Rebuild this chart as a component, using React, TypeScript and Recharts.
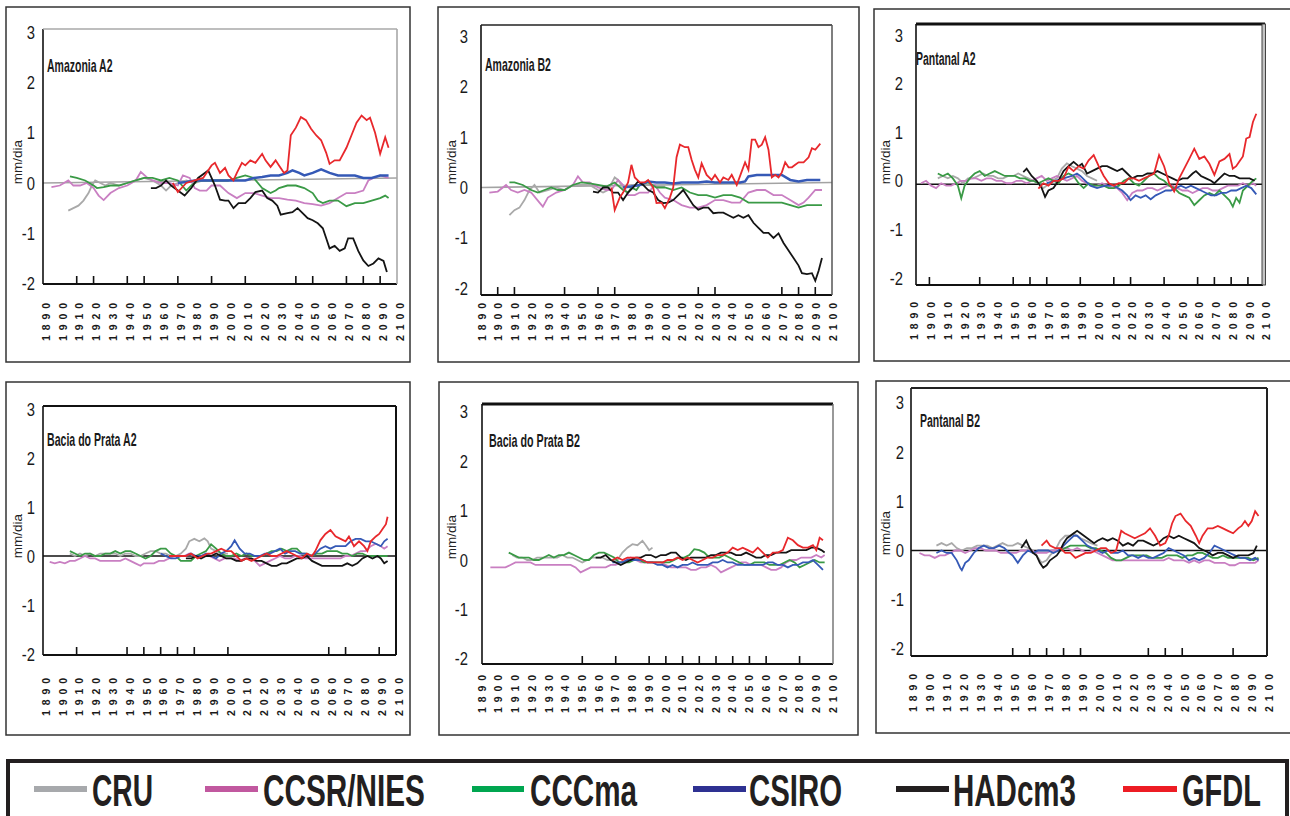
import React from "react";
import { LineChart, Line, XAxis, YAxis, ReferenceLine } from "recharts";

// year, value pairs (mm/dia anomalies)
const amzA2Cru = [1905,-0.55,1908,-0.5,1911,-0.45,1914,-0.35,1917,-0.2,1919,-0.05,1921,0.05,1924,0,1927,-0.05,1930,0,1935,-0.05,1940,0,1945,0.05,1950,0.1,1955,0.05,1960,-0.05,1963,-0.15,1966,-0.05,1970,0,1975,0.05,1980,0,1985,0.05,1990,0.05,1995,0.05,2000,0.05];
const amzA2Ccsr = [1895,-0.08,1900,-0.05,1905,0.05,1908,-0.05,1912,-0.05,1916,0,1920,-0.1,1923,-0.25,1926,-0.34,1930,-0.2,1935,-0.1,1940,-0.05,1945,0.05,1948,0.22,1952,0.1,1955,0.05,1960,0,1965,0,1970,-0.05,1973,0.15,1977,0.1,1980,-0.1,1983,-0.15,1987,-0.15,1990,-0.05,1995,-0.05,2000,-0.2,2005,-0.3,2010,-0.2,2015,-0.2,2020,-0.25,2025,-0.3,2030,-0.3,2035,-0.33,2040,-0.35,2045,-0.4,2050,-0.42,2055,-0.45,2060,-0.4,2065,-0.3,2070,-0.2,2075,-0.2,2080,-0.15,2083,0.05,2086,0.1,2090,0.15,2095,0.1];
const amzA2Cccma = [1906,0.13,1910,0.1,1915,0.05,1920,-0.05,1922,-0.1,1926,-0.08,1930,-0.05,1935,-0.05,1940,0,1945,0.05,1950,0.1,1955,0.1,1960,0.05,1965,0.1,1970,0.05,1975,-0.15,1978,-0.05,1982,0.05,1985,0.05,1990,0.05,1995,0.05,2000,0.05,2005,0.1,2010,0.15,2015,0.1,2020,-0.1,2025,-0.2,2028,-0.15,2030,-0.1,2035,-0.05,2040,-0.05,2045,-0.1,2050,-0.2,2053,-0.35,2056,-0.4,2060,-0.35,2065,-0.35,2070,-0.46,2075,-0.4,2080,-0.4,2085,-0.35,2090,-0.3,2093,-0.25,2095,-0.3];
const amzA2Csiro = [1970,0,1975,0.02,1980,0.05,1985,0.05,1990,0.05,1995,0.05,2000,0.05,2005,0.05,2010,0.05,2015,0.1,2020,0.12,2025,0.15,2030,0.15,2035,0.2,2038,0.25,2042,0.2,2045,0.15,2050,0.2,2055,0.27,2060,0.2,2065,0.15,2070,0.15,2075,0.15,2080,0.1,2085,0.1,2090,0.15,2095,0.15];
const amzA2Had = [1954,-0.1,1957,-0.1,1960,-0.05,1963,0.05,1966,-0.05,1970,-0.15,1974,-0.25,1978,-0.1,1982,0.1,1986,0.2,1988,0.25,1990,0.1,1992,-0.05,1995,-0.33,1998,-0.35,2000,-0.35,2003,-0.5,2006,-0.4,2010,-0.4,2013,-0.3,2016,-0.18,2020,-0.15,2023,-0.3,2026,-0.35,2029,-0.45,2031,-0.63,2035,-0.6,2038,-0.58,2041,-0.5,2044,-0.6,2047,-0.7,2050,-0.74,2053,-0.8,2056,-0.9,2058,-1.1,2060,-1.3,2063,-1.25,2066,-1.35,2069,-1.3,2071,-1.1,2074,-1.1,2077,-1.35,2080,-1.54,2083,-1.65,2086,-1.6,2089,-1.5,2092,-1.55,2094,-1.77];
const amzA2Gfdl = [1967,0,1970,-0.18,1975,0,1980,0.05,1985,0.1,1990,0.35,1992,0.4,1995,0.2,1998,0.3,2000,0.15,2003,0.05,2005,0.2,2008,0.4,2010,0.35,2013,0.45,2016,0.4,2020,0.58,2022,0.45,2025,0.32,2028,0.45,2030,0.35,2033,0.2,2035,0.25,2037,0.95,2040,1.1,2043,1.31,2046,1.25,2049,1.08,2052,0.95,2055,0.85,2058,0.6,2060,0.38,2063,0.45,2066,0.45,2070,0.7,2073,0.95,2076,1.2,2079,1.34,2082,1.25,2084,1.3,2087,1.0,2090,0.58,2093,0.91,2095,0.7];

const amzB2Cru = [1907,-0.55,1910,-0.45,1913,-0.4,1916,-0.25,1919,-0.05,1922,0.05,1925,-0.1,1930,-0.05,1935,0,1940,-0.05,1945,0.05,1950,0.05,1955,0.05,1960,-0.05,1963,-0.1,1966,-0.05,1970,0.2,1972,0.15,1975,0,1980,0.05,1985,0.05,1990,0.05,1995,0.02,2000,0.02];
const amzB2Ccsr = [1895,-0.1,1900,-0.08,1905,0.05,1908,-0.05,1912,-0.1,1916,-0.05,1920,-0.1,1925,-0.3,1927,-0.38,1930,-0.2,1935,-0.1,1940,-0.05,1945,0.05,1948,0.22,1951,0.1,1955,0.1,1960,0,1965,-0.05,1968,-0.05,1972,0.15,1975,0.05,1978,-0.15,1982,-0.15,1985,-0.1,1990,-0.1,1994,0.05,1997,-0.1,2000,-0.2,2005,-0.25,2010,-0.35,2015,-0.4,2020,-0.4,2025,-0.35,2030,-0.25,2035,-0.25,2040,-0.3,2045,-0.3,2050,-0.1,2055,-0.05,2060,-0.05,2065,-0.15,2070,-0.15,2075,-0.25,2080,-0.35,2083,-0.3,2086,-0.2,2090,-0.05,2094,-0.05];
const amzB2Cccma = [1907,0.1,1910,0.1,1915,0.05,1920,-0.05,1924,-0.1,1928,-0.05,1932,0,1936,-0.05,1940,-0.05,1945,0.05,1950,0.1,1955,0.08,1960,0.05,1965,0.02,1970,0.1,1975,-0.05,1978,-0.1,1980,0,1983,-0.05,1985,0.05,1990,0.1,1995,0,2000,0,2005,-0.05,2010,0,2015,-0.1,2020,-0.15,2025,-0.15,2030,-0.2,2035,-0.15,2040,-0.15,2045,-0.2,2050,-0.3,2055,-0.3,2060,-0.3,2065,-0.3,2070,-0.3,2075,-0.35,2080,-0.4,2085,-0.35,2090,-0.35,2094,-0.35];
const amzB2Csiro = [1975,0,1980,0.02,1985,0.05,1990,0.12,1995,0.1,2000,0.1,2005,0.08,2010,0.1,2015,0.1,2020,0.1,2025,0.12,2030,0.1,2035,0.1,2040,0.1,2045,0.1,2048,0.12,2050,0.22,2055,0.25,2060,0.25,2065,0.25,2070,0.25,2075,0.15,2080,0.12,2085,0.15,2090,0.15,2093,0.15];
const amzB2Had = [1957,-0.08,1960,-0.1,1963,0,1966,0,1969,-0.1,1972,-0.1,1975,-0.25,1978,-0.1,1981,0,1984,0.12,1987,0.05,1990,-0.05,1993,-0.1,1996,-0.25,1999,-0.31,2002,-0.3,2005,-0.25,2008,-0.15,2011,-0.05,2014,-0.2,2017,-0.35,2020,-0.44,2023,-0.4,2026,-0.4,2029,-0.51,2032,-0.5,2035,-0.5,2038,-0.55,2041,-0.6,2044,-0.55,2047,-0.6,2050,-0.55,2053,-0.7,2056,-0.8,2059,-0.9,2062,-0.9,2065,-1.0,2068,-0.91,2071,-1.1,2074,-1.25,2077,-1.4,2080,-1.55,2082,-1.7,2085,-1.72,2088,-1.7,2090,-1.85,2092,-1.65,2094,-1.4];
const amzB2Gfdl = [1968,0,1970,-0.45,1973,-0.2,1975,-0.1,1978,0.1,1980,0.45,1982,0.2,1985,0.1,1988,0.1,1990,0.15,1993,0,1995,-0.31,1998,-0.3,2000,-0.41,2003,-0.2,2005,0,2007,0.6,2009,0.85,2012,0.8,2014,0.8,2016,0.55,2018,0.35,2020,0.2,2022,0.48,2025,0.25,2028,0.15,2030,0.25,2033,0.1,2035,0.2,2038,0.15,2040,0.25,2043,0.05,2046,0.32,2048,0.5,2050,0.35,2052,0.95,2054,0.95,2056,0.8,2058,0.85,2060,1.0,2062,0.75,2064,0.2,2066,0.25,2068,0.2,2070,0.3,2072,0.5,2074,0.4,2076,0.4,2078,0.45,2080,0.5,2083,0.5,2086,0.6,2088,0.78,2090,0.75,2093,0.87];

const panA2Cru = [1905,0.05,1908,0.1,1911,0.05,1914,0.1,1917,0.05,1920,-0.05,1923,0.05,1926,0.05,1929,0.1,1932,0.15,1935,0.1,1938,0.1,1941,0.05,1944,0.05,1947,0.1,1950,0.1,1953,0.15,1956,0.1,1959,0.05,1962,0,1965,-0.05,1968,-0.15,1970,-0.1,1973,0,1976,0.05,1979,0.25,1982,0.36,1985,0.3,1988,0.25,1991,0.2,1994,0.1,1997,0.05,2000,0];
const panA2Ccsr = [1895,-0.05,1898,0,1901,-0.1,1904,-0.15,1907,-0.05,1910,-0.1,1913,-0.1,1916,-0.05,1919,0,1922,0,1925,0.05,1928,0.05,1931,0,1934,0.05,1937,0.05,1940,0,1943,0,1946,-0.05,1949,-0.05,1952,0,1955,0,1958,-0.05,1961,0,1964,0.05,1967,0.1,1970,0,1973,0.05,1976,0.1,1979,0.05,1982,0,1985,0.05,1988,0.1,1991,0,1994,-0.05,1997,-0.1,2000,-0.1,2003,-0.05,2006,-0.1,2009,-0.15,2012,-0.15,2015,-0.25,2018,-0.4,2021,-0.25,2024,-0.2,2027,-0.2,2030,-0.15,2033,-0.15,2036,-0.2,2039,-0.15,2042,-0.1,2045,-0.1,2048,-0.15,2051,-0.2,2054,-0.2,2057,-0.25,2060,-0.2,2063,-0.15,2066,-0.15,2069,-0.2,2072,-0.2,2075,-0.15,2078,-0.1,2081,-0.1,2084,-0.1,2087,-0.05,2090,-0.1,2093,-0.05,2095,-0.1];
const panA2Cccma = [1905,0.15,1908,0.1,1911,0.15,1914,0.05,1917,-0.1,1919,-0.36,1921,-0.1,1924,0.05,1927,0.15,1930,0.2,1933,0.1,1936,0.15,1939,0.2,1942,0.15,1945,0.1,1948,0.1,1951,0.1,1954,0.05,1957,0.05,1960,0,1962,0,1965,-0.05,1968,0,1971,0.05,1974,0,1977,-0.05,1980,0.1,1983,0.15,1986,0.1,1989,-0.05,1992,-0.15,1995,-0.05,1998,-0.1,2001,-0.1,2004,-0.1,2007,-0.15,2010,-0.15,2013,-0.1,2016,0,2019,0.05,2022,-0.05,2025,-0.1,2028,0,2031,0.1,2034,0.15,2037,0.05,2040,0,2043,-0.1,2046,-0.15,2049,-0.25,2052,-0.3,2055,-0.35,2058,-0.5,2061,-0.4,2064,-0.3,2067,-0.25,2070,-0.3,2073,-0.2,2076,-0.3,2079,-0.4,2081,-0.53,2083,-0.35,2085,-0.45,2087,-0.2,2090,-0.1,2093,0,2095,0.05];
const panA2Csiro = [1970,-0.05,1975,0,1980,0.05,1985,0.1,1988,0.15,1990,0.1,1993,0,1996,-0.1,2000,-0.15,2005,-0.1,2010,-0.1,2015,-0.2,2018,-0.3,2020,-0.4,2023,-0.3,2026,-0.35,2029,-0.3,2032,-0.38,2035,-0.3,2038,-0.25,2041,-0.2,2044,-0.2,2047,-0.15,2050,-0.1,2053,-0.15,2056,-0.1,2059,-0.15,2062,-0.2,2065,-0.25,2068,-0.3,2071,-0.3,2074,-0.25,2077,-0.25,2080,-0.2,2083,-0.2,2086,-0.15,2089,-0.1,2092,-0.15,2095,-0.28];
const panA2Had = [1956,0.18,1958,0.25,1961,0.1,1964,0,1967,-0.15,1969,-0.33,1971,-0.2,1974,-0.15,1977,0,1980,0.2,1983,0.3,1986,0.39,1989,0.3,1991,0.35,1994,0.15,1997,0.2,2000,0.25,2003,0.3,2006,0.3,2009,0.25,2012,0.2,2015,0.25,2018,0.15,2021,0.05,2024,0.1,2027,0.1,2030,0.15,2033,0.15,2036,0.2,2039,0.15,2042,0.1,2045,0.05,2048,0,2051,0.05,2054,0.05,2057,0.15,2059,0.2,2062,0.1,2065,0.05,2068,0,2070,-0.05,2073,0.05,2076,0.15,2079,0.1,2082,0.1,2085,0.05,2088,0.05,2091,0.05,2094,0];
const panA2Gfdl = [1965,-0.16,1968,-0.05,1971,-0.1,1974,0,1977,0,1980,0.05,1983,0.29,1986,0.2,1989,0.3,1992,0.25,1995,0.42,1998,0.53,2001,0.3,2004,0.1,2007,-0.05,2010,-0.1,2013,-0.05,2016,-0.05,2019,0.05,2022,0.05,2025,0,2028,0.05,2031,0.1,2034,0.15,2037,0.53,2040,0.3,2043,-0.05,2046,-0.22,2049,0.05,2052,0.25,2055,0.45,2058,0.66,2061,0.45,2064,0.5,2067,0.35,2070,0.12,2073,0.4,2076,0.45,2079,0.55,2081,0.25,2083,0.3,2085,0.4,2087,0.5,2089,0.87,2091,0.9,2093,1.21,2095,1.38];

const bpA2Cru = [1906,0.05,1909,0,1912,0.05,1915,0,1918,0.05,1921,0,1924,0.05,1927,0.05,1930,0.05,1933,0.05,1936,0,1939,0.05,1942,0.05,1945,0,1948,0,1951,0.05,1954,0.1,1957,0.1,1960,0.05,1963,0.05,1966,0,1969,0,1972,0.05,1975,0.15,1977,0.3,1980,0.35,1983,0.3,1986,0.36,1988,0.3,1990,0.15,1993,0.1,1996,0.05,2000,0.05];
const bpA2Ccsr = [1894,-0.12,1897,-0.15,1900,-0.12,1903,-0.15,1906,-0.1,1909,-0.1,1912,-0.05,1915,0,1918,-0.05,1921,-0.05,1924,-0.1,1927,-0.1,1930,-0.1,1933,-0.1,1936,-0.1,1939,-0.05,1942,-0.1,1945,-0.15,1948,-0.2,1950,-0.15,1953,-0.15,1956,-0.15,1959,-0.1,1962,-0.1,1965,-0.05,1968,0,1971,0,1974,0,1977,0.05,1980,0,1983,0,1986,0,1989,0,1992,-0.05,1995,-0.1,1998,-0.05,2001,-0.05,2004,-0.05,2007,-0.1,2010,-0.05,2013,-0.05,2016,-0.1,2019,-0.2,2022,-0.15,2025,-0.1,2028,-0.05,2031,0,2034,-0.05,2037,-0.05,2040,0,2043,0,2046,-0.05,2049,-0.05,2052,-0.05,2055,-0.05,2058,-0.05,2061,-0.05,2064,-0.05,2067,-0.05,2070,0,2073,0,2076,0.05,2079,0.1,2082,0.1,2085,0.2,2088,0.25,2091,0.2,2093,0.15,2095,0.2];
const bpA2Cccma = [1906,0.1,1909,0.05,1912,0,1915,0.05,1918,0.05,1921,0,1924,0,1927,0.05,1930,0.05,1933,0.1,1936,0.05,1939,0.1,1942,0.1,1945,0.05,1948,0,1951,-0.05,1954,0,1957,0.1,1960,0.15,1963,0.15,1966,0.05,1969,0,1972,-0.1,1975,-0.1,1978,-0.1,1981,0,1984,0.05,1987,0.1,1990,0.24,1993,0.15,1996,0.05,1999,0,2002,0,2005,0.05,2008,0,2011,0.05,2014,0,2017,0,2020,0,2023,0.05,2026,0.1,2029,0.1,2032,0.15,2035,0.1,2038,0.15,2041,0.15,2044,0.05,2047,0.05,2050,0,2053,0.05,2056,0.05,2059,0.1,2062,0.1,2065,0.1,2068,0.05,2071,0.05,2074,0,2077,0.05,2080,0.05,2083,0,2086,0,2089,0,2092,0,2095,0];
const bpA2Csiro = [1960,0.05,1963,0,1966,-0.05,1969,-0.05,1972,0,1975,0,1978,0.05,1981,0,1984,0,1987,0.05,1990,0,1993,-0.05,1996,0.05,1999,0.1,2002,0.2,2004,0.32,2007,0.15,2010,0.05,2013,0.05,2016,0,2019,0,2022,0.05,2025,0.05,2028,0.1,2031,0.15,2034,0.05,2037,0.1,2040,0.1,2043,0.05,2046,0.05,2049,0,2052,0.05,2055,0.15,2058,0.2,2061,0.15,2064,0.2,2067,0.2,2070,0.2,2073,0.3,2076,0.35,2079,0.35,2082,0.3,2085,0.3,2088,0.25,2091,0.2,2093,0.3,2095,0.35];
const bpA2Had = [1975,-0.05,1978,-0.05,1981,0,1984,-0.05,1987,0,1990,0,1993,0.05,1996,0,1999,-0.05,2002,-0.05,2005,-0.1,2008,-0.1,2011,-0.05,2014,-0.05,2017,-0.1,2020,-0.1,2023,-0.15,2026,-0.2,2029,-0.2,2032,-0.15,2035,-0.15,2038,-0.1,2041,-0.05,2044,-0.05,2047,0,2050,-0.1,2053,-0.15,2056,-0.2,2059,-0.2,2062,-0.2,2065,-0.2,2068,-0.2,2071,-0.15,2074,-0.2,2077,-0.15,2080,-0.05,2083,0,2086,-0.05,2089,0,2091,-0.05,2093,-0.15,2095,-0.1];
const bpA2Gfdl = [1965,0,1970,0,1975,0,1978,0.05,1982,-0.05,1985,0,1988,0.05,1990,0.05,1993,0.1,1996,0.15,1999,0.1,2002,0.1,2005,0,2008,-0.1,2011,-0.05,2014,-0.1,2017,-0.05,2020,0,2023,0.05,2026,0,2029,0,2032,0.05,2035,0.1,2038,0.05,2041,0,2044,-0.05,2047,0.05,2050,0,2052,0.1,2055,0.32,2058,0.45,2061,0.53,2064,0.4,2067,0.35,2070,0.3,2072,0.4,2075,0.2,2078,0.3,2081,0.2,2083,0.1,2085,0.3,2088,0.4,2090,0.45,2092,0.55,2094,0.65,2095,0.8];

const bpB2Cru = [1908,0.1,1911,0.05,1914,0.05,1917,0,1920,0,1923,0.05,1926,0.05,1929,0.05,1932,0.05,1935,0.05,1938,0.1,1941,0.05,1944,0.05,1947,0,1950,-0.05,1953,0,1956,0.05,1959,0.05,1962,0.05,1965,0,1968,0,1971,0,1974,0.15,1977,0.25,1980,0.32,1983,0.3,1986,0.39,1988,0.3,1990,0.2,1992,0.25];
const bpB2Ccsr = [1895,-0.15,1898,-0.15,1901,-0.15,1904,-0.15,1907,-0.1,1910,-0.05,1913,-0.05,1916,-0.05,1919,-0.05,1922,-0.1,1925,-0.1,1928,-0.1,1931,-0.1,1934,-0.1,1937,-0.1,1940,-0.1,1943,-0.1,1946,-0.15,1949,-0.25,1952,-0.2,1955,-0.15,1958,-0.15,1961,-0.15,1964,-0.15,1967,-0.1,1970,-0.1,1973,-0.05,1976,0,1979,0.05,1982,0,1985,-0.05,1988,-0.05,1991,-0.05,1994,-0.05,1997,-0.05,2000,-0.1,2003,-0.15,2006,-0.15,2009,-0.15,2012,-0.15,2015,-0.2,2018,-0.2,2021,-0.15,2024,-0.15,2027,-0.1,2030,-0.15,2033,-0.25,2036,-0.2,2039,-0.15,2042,-0.1,2045,-0.05,2048,-0.05,2051,-0.1,2054,-0.1,2057,-0.1,2060,-0.15,2063,-0.2,2066,-0.2,2069,-0.15,2072,-0.05,2075,0,2078,0,2081,0.05,2084,0.05,2087,0.05,2090,0.1,2093,0.05,2095,0.1];
const bpB2Cccma = [1906,0.15,1909,0.1,1912,0.05,1915,0.05,1918,0.05,1921,0,1924,0,1927,0.05,1930,0.1,1933,0.05,1936,0.1,1939,0.1,1942,0.15,1945,0.1,1948,0.05,1951,0,1954,0,1957,0.1,1960,0.15,1963,0.15,1966,0.1,1969,0.05,1972,-0.05,1975,-0.05,1978,-0.05,1981,0,1984,0,1987,-0.05,1990,-0.05,1993,-0.05,1996,-0.05,1999,-0.05,2002,-0.05,2005,0,2008,0.05,2011,0.05,2014,0.1,2017,0.22,2020,0.2,2023,0.15,2026,0.05,2029,0.05,2032,0.05,2035,0.1,2038,0.05,2041,0,2044,-0.05,2047,-0.1,2050,-0.1,2053,-0.05,2056,-0.05,2059,-0.05,2062,-0.1,2065,-0.1,2068,-0.1,2071,-0.05,2074,0,2077,-0.05,2080,-0.15,2083,-0.1,2086,-0.05,2089,0,2092,-0.05,2095,-0.05];
const bpB2Csiro = [1968,-0.05,1971,-0.05,1974,-0.05,1977,0,1980,0,1983,0,1986,0,1989,-0.05,1992,-0.05,1995,-0.1,1998,-0.1,2001,-0.15,2004,-0.1,2007,-0.15,2010,-0.1,2013,-0.1,2016,-0.05,2019,-0.1,2022,-0.1,2025,-0.1,2028,-0.05,2031,-0.05,2034,0,2037,-0.05,2040,-0.05,2043,-0.1,2046,-0.1,2049,-0.1,2052,-0.1,2055,-0.1,2058,-0.1,2061,-0.05,2064,-0.05,2067,-0.1,2070,-0.1,2073,-0.15,2076,-0.1,2079,-0.1,2082,-0.05,2085,-0.05,2088,0,2091,-0.1,2094,-0.2];
const bpB2Had = [1958,0.05,1961,0.05,1964,0.1,1967,0,1970,-0.05,1973,-0.1,1976,-0.05,1979,0,1982,0.05,1985,0.05,1988,0.1,1991,0.1,1994,0.05,1997,0.1,2000,0.1,2003,0.15,2006,0.15,2009,0.05,2012,0,2015,0.05,2018,0.05,2021,0.05,2024,0.05,2027,0.1,2030,0.1,2033,0.15,2036,0.15,2039,0.15,2042,0.1,2045,0.1,2048,0.15,2051,0.1,2054,0.05,2057,0.05,2060,0.1,2063,0.1,2066,0.15,2069,0.15,2072,0.15,2075,0.2,2078,0.2,2081,0.2,2084,0.2,2087,0.25,2090,0.25,2093,0.2,2095,0.15];
const bpB2Gfdl = [1968,0,1971,0.05,1974,0,1977,0.05,1980,0.05,1983,0.05,1986,0,1989,-0.05,1992,-0.05,1995,-0.05,1998,-0.05,2001,0,2004,0,2007,0.05,2010,0,2013,0.05,2016,0,2019,-0.05,2022,0,2025,0.05,2028,0.05,2031,0.1,2034,0.1,2037,0.15,2040,0.25,2043,0.2,2046,0.25,2049,0.2,2052,0.15,2055,0.25,2058,0.15,2061,0.05,2064,0.15,2067,0.15,2070,0.2,2073,0.45,2076,0.4,2079,0.3,2082,0.25,2085,0.25,2088,0.3,2090,0.2,2092,0.45,2094,0.4];

const panB2Cru = [1905,0.1,1908,0.15,1911,0.1,1914,0.15,1917,0.05,1920,0,1923,0.05,1926,0.05,1929,0.1,1932,0.1,1935,0.1,1938,0.05,1941,0.1,1944,0.15,1947,0.1,1950,0.1,1953,0.15,1956,0.1,1959,0.05,1962,0,1965,-0.15,1967,-0.25,1970,-0.2,1972,-0.1,1975,0,1978,0.2,1981,0.3,1984,0.3,1986,0.35,1988,0.3,1990,0.25,1993,0.2,1996,0.15,2000,0.1];
const panB2Ccsr = [1895,-0.05,1898,-0.1,1901,-0.1,1904,-0.15,1907,-0.1,1910,-0.1,1913,-0.05,1916,0,1919,0,1922,-0.05,1925,0,1928,0.05,1931,0.05,1934,0,1937,0,1940,0,1943,-0.05,1946,-0.05,1949,-0.05,1952,-0.05,1955,0,1958,0,1961,0,1964,-0.05,1967,-0.05,1970,-0.05,1973,0,1976,0,1979,0.05,1982,0.05,1985,0,1988,0.05,1991,0,1994,-0.05,1997,0,2000,-0.05,2003,-0.1,2006,-0.15,2009,-0.2,2012,-0.2,2015,-0.2,2018,-0.2,2021,-0.2,2024,-0.2,2027,-0.2,2030,-0.2,2033,-0.2,2036,-0.2,2039,-0.2,2042,-0.15,2045,-0.2,2048,-0.2,2051,-0.2,2054,-0.25,2057,-0.2,2060,-0.25,2063,-0.2,2066,-0.2,2069,-0.25,2072,-0.25,2075,-0.25,2078,-0.3,2081,-0.3,2084,-0.25,2087,-0.25,2090,-0.25,2093,-0.25,2095,-0.2];
const panB2Cccma = [1978,0,1981,0.05,1984,0.1,1987,0.1,1990,0.1,1993,0.1,1996,0.05,1999,0.05,2002,0,2005,-0.05,2008,-0.15,2011,-0.2,2014,-0.2,2017,-0.15,2020,-0.1,2023,-0.1,2026,-0.1,2029,-0.1,2032,-0.15,2035,-0.15,2038,-0.15,2041,-0.1,2044,-0.1,2047,-0.1,2050,-0.15,2053,-0.1,2056,-0.1,2059,-0.05,2062,-0.05,2065,-0.1,2068,-0.15,2071,-0.15,2074,-0.1,2077,-0.15,2080,-0.15,2083,-0.15,2086,-0.15,2089,-0.15,2092,-0.2,2095,-0.15];
const panB2Csiro = [1905,-0.05,1908,0,1911,-0.05,1914,-0.05,1917,-0.2,1919,-0.35,1920,-0.4,1922,-0.25,1924,-0.2,1927,-0.05,1930,0.05,1933,0.1,1936,0.05,1939,0.05,1942,0.1,1945,0.05,1948,-0.05,1950,-0.1,1953,-0.25,1956,-0.1,1959,0,1962,-0.05,1965,0,1968,0,1971,0,1974,-0.05,1977,0,1980,0.1,1983,0.2,1986,0.3,1988,0.3,1991,0.2,1994,0.1,1997,0.05,2000,0,2003,-0.05,2006,0,2009,-0.05,2012,-0.05,2015,0,2018,-0.1,2021,-0.1,2024,-0.15,2027,-0.1,2030,-0.15,2033,-0.15,2036,-0.1,2039,-0.05,2042,0.05,2045,0,2048,-0.05,2051,-0.1,2054,-0.2,2057,-0.15,2060,-0.2,2063,-0.15,2066,-0.05,2069,0.1,2072,0.05,2075,0,2078,-0.05,2081,-0.1,2084,-0.15,2087,-0.15,2090,-0.2,2093,-0.15,2095,-0.2];
const panB2Had = [1955,0.05,1957,0.15,1958,0.2,1960,0.05,1962,-0.05,1964,-0.1,1966,-0.25,1968,-0.35,1970,-0.3,1972,-0.2,1974,-0.15,1976,-0.1,1978,0,1980,0.15,1982,0.25,1984,0.3,1986,0.35,1988,0.4,1990,0.35,1992,0.3,1994,0.25,1996,0.2,1998,0.15,2000,0.2,2003,0.25,2006,0.2,2009,0.25,2012,0.2,2015,0.1,2018,0.15,2021,0.1,2024,0.2,2027,0.2,2030,0.15,2033,0.1,2036,0.15,2039,0.25,2042,0.3,2045,0.25,2048,0.3,2051,0.25,2054,0.2,2057,0.15,2060,0.05,2063,0,2066,-0.05,2068,-0.1,2071,-0.05,2074,-0.05,2077,-0.1,2080,-0.15,2083,-0.1,2086,-0.1,2089,-0.1,2092,-0.05,2094,0.1];
const panB2Gfdl = [1967,0.1,1970,0.2,1972,0.1,1975,0.05,1978,0.05,1981,-0.05,1984,-0.05,1987,-0.15,1990,-0.1,1993,-0.05,1996,-0.05,1999,0,2002,0.05,2005,0.05,2008,-0.05,2011,0,2014,0.4,2016,0.35,2019,0.3,2022,0.25,2025,0.3,2028,0.35,2031,0.45,2034,0.3,2037,0.1,2040,0.15,2042,0.3,2044,0.55,2046,0.7,2049,0.75,2052,0.6,2055,0.5,2058,0.3,2060,0.15,2062,0.3,2065,0.45,2068,0.45,2071,0.5,2074,0.45,2077,0.4,2080,0.35,2083,0.45,2085,0.5,2087,0.6,2089,0.5,2091,0.6,2093,0.8,2095,0.7];

const MODELS = ["CRU", "CCSR/NIES", "CCCma", "CSIRO", "HADcm3", "GFDL"];
const LINE_COLORS = ["#a9a9a9", "#c97fc2", "#3a9a46", "#3559b6", "#141414", "#e8282c"];
const LEGEND_COLORS = ["#a7a9ac", "#c1589f", "#00a650", "#2e3192", "#231f20", "#ed1c24"];
const DECADES = [1890,1900,1910,1920,1930,1940,1950,1960,1970,1980,1990,2000,2010,2020,2030,2040,2050,2060,2070,2080,2090,2100];
const Y_TICKS = [-2, -1, 0, 1, 2, 3];

const toPoints = (flat: number[]) => {
  const out: { year: number; v: number }[] = [];
  for (let i = 0; i < flat.length; i += 2) out.push({ year: flat[i], v: flat[i + 1] });
  return out;
};

type Panel = {
  title: string;
  series: number[][];
  marks: number[];
  box: [number, number, number, number];
  plot: [number, number, number, number];
  zeroY: number;
  unit: number;
  xDomain: [number, number];
  labelGap: number;
  labelDx: number;
  yGap: number;
  titlePos: [number, number, number];
  unitPos: [number, number];
  zero: "tilt" | "line" | "none";
  zeroAt?: number;
  blueWide?: boolean;
};

const PANELS: Panel[] = [
  {
    title: "Amazonia A2",
    series: [amzA2Cru, amzA2Ccsr, amzA2Cccma, amzA2Csiro, amzA2Had, amzA2Gfdl],
    marks: [1910,1920,1940,1950,1970,1990,2010,2040,2050,2070,2080,2090],
    box: [6, 7, 404, 355], plot: [43, 29, 397, 284], zeroY: 183, unit: 50.3,
    xDomain: [1890, 2100], labelGap: 19, labelDx: 3, yGap: 8,
    titlePos: [47, 65, 66], unitPos: [17.5, 162], zero: "tilt", blueWide: true,
  },
  {
    title: "Amazonia B2",
    series: [amzB2Cru, amzB2Ccsr, amzB2Cccma, amzB2Csiro, amzB2Had, amzB2Gfdl],
    marks: [1900,1910,1940,1960,1970,2020,2030,2070,2080,2090],
    box: [438, 7, 421, 355], plot: [481, 25, 832, 295], zeroY: 187.5, unit: 50.4,
    xDomain: [1890, 2100], labelGap: 8, labelDx: 1, yGap: 13,
    titlePos: [485, 64, 66], unitPos: [451, 162], zero: "tilt", blueWide: true,
  },
  {
    title: "Pantanal A2",
    series: [panA2Cru, panA2Ccsr, panA2Cccma, panA2Csiro, panA2Had, panA2Gfdl],
    marks: [1900,1930,1950,1960,1970,1990,2010,2020,2040,2060,2070,2080,2090],
    box: [874, 9, 420, 352], plot: [916, 24, 1263, 285], zeroY: 180.8, unit: 48.6,
    xDomain: [1892, 2099], labelGap: 17, labelDx: 2, yGap: 13,
    titlePos: [916, 58, 60], unitPos: [885, 162], zero: "line", zeroAt: -0.07,
  },
  {
    title: "Bacia do Prata A2",
    series: [bpA2Cru, bpA2Ccsr, bpA2Cccma, bpA2Csiro, bpA2Had, bpA2Gfdl],
    marks: [1910,1940,1950,1960,1970,1980,2000,2060,2070,2090],
    box: [6, 382, 404, 353], plot: [43, 406, 396, 655], zeroY: 556, unit: 49,
    xDomain: [1890, 2100], labelGap: 23, labelDx: 3, yGap: 8,
    titlePos: [47, 439, 90], unitPos: [17, 536], zero: "line", zeroAt: 0,
  },
  {
    title: "Bacia do Prata B2",
    series: [bpB2Cru, bpB2Ccsr, bpB2Cccma, bpB2Csiro, bpB2Had, bpB2Gfdl],
    marks: [1950,1970,1990,2000,2010,2020,2030,2040,2050,2060,2080],
    box: [439, 382, 419, 353], plot: [482, 404, 833, 664], zeroY: 560, unit: 49.4,
    xDomain: [1890, 2100], labelGap: 11, labelDx: 0, yGap: 14,
    titlePos: [489, 440, 91], unitPos: [451, 537], zero: "none",
  },
  {
    title: "Pantanal B2",
    series: [panB2Cru, panB2Ccsr, panB2Cccma, panB2Csiro, panB2Had, panB2Gfdl],
    marks: [1950,1960,1970,1980,1990,2030,2040,2050,2080],
    box: [876, 381, 418, 352], plot: [911, 388, 1267, 656], zeroY: 550.5, unit: 49.2,
    xDomain: [1890, 2100], labelGap: 18, labelDx: 2.5, yGap: 7,
    titlePos: [920, 420, 60], unitPos: [885, 533], zero: "line", zeroAt: 0,
  },
];

const FONT = "'Liberation Sans', Arial, Helvetica, sans-serif";

// measure natural text width so condensed text can be squeezed with a real transform
let measureCtx: CanvasRenderingContext2D | null = null;
function textWidth(text: string, size: number) {
  if (!measureCtx) measureCtx = document.createElement("canvas").getContext("2d");
  if (!measureCtx) return text.length * size * 0.6;
  measureCtx.font = `bold ${size}px 'Liberation Sans', Arial, sans-serif`;
  return measureCtx.measureText(text).width;
}

function Squeezed({ x, y, width, size, text, fill }: { x: number; y: number; width: number; size: number; text: string; fill: string }) {
  const sx = width / textWidth(text, size);
  return (
    <text
      transform={`translate(${x},${y}) scale(${sx},1)`}
      fontSize={size}
      fontWeight="bold"
      fontFamily={FONT}
      fill={fill}
    >
      {text}
    </text>
  );
}

function XTick(props: any) {
  const { x, y, payload, marks, gap, dx } = props;
  const yr = payload.value;
  return (
    <g>
      {marks.includes(yr) && <line x1={x} x2={x} y1={y} y2={y - 8} stroke="#111" strokeWidth={1.6} />}
      <text
        transform={`translate(${x + dx},${y + gap}) rotate(-90)`}
        textAnchor="end"
        dy="0.36em"
        fontSize={10.5}
        fontWeight="bold"
        fontFamily={FONT}
        fill="#1a1a1a"
        textLength={38}
        lengthAdjust="spacing"
      >
        {yr}
      </text>
    </g>
  );
}

function YTick(props: any) {
  const { x, y, payload, gap } = props;
  return (
    <text
      transform={`translate(${x - gap},${y + 6.5}) scale(0.8,1)`}
      textAnchor="end"
      fontSize={18.5}
      fontFamily={FONT}
      fill="#1a1a1a"
    >
      {payload.value}
    </text>
  );
}

function PanelChart({ p }: { p: Panel }) {
  const [bx, by, bw, bh] = p.box;
  const [pl, pt, pr, pb] = p.plot;
  const yMax = (p.zeroY - pt) / p.unit;
  const yMin = -(pb - p.zeroY) / p.unit;
  return (
    <div style={{ position: "absolute", left: bx, top: by, width: bw, height: bh }}>
      <LineChart
        width={bw}
        height={bh}
        margin={{ top: pt - by, right: bx + bw - pr, left: 0, bottom: 0 }}
      >
        <XAxis
          type="number"
          dataKey="year"
          domain={p.xDomain}
          allowDataOverflow
          ticks={DECADES}
          interval={0}
          height={by + bh - pb}
          tickLine={false}
          tickSize={0}
          tickMargin={0}
          axisLine={{ stroke: "#111", strokeWidth: 2 }}
          tick={(t: any) => <XTick {...t} marks={p.marks} gap={p.labelGap} dx={p.labelDx} />}
        />
        <YAxis
          type="number"
          domain={[yMin, yMax]}
          allowDataOverflow
          ticks={Y_TICKS}
          interval={0}
          width={pl - bx}
          tickLine={false}
          tickSize={0}
          tickMargin={0}
          axisLine={{ stroke: "#111", strokeWidth: 1.6 }}
          tick={(t: any) => <YTick {...t} gap={p.yGap} />}
        />
        {p.zero === "tilt" && (
          <ReferenceLine
            segment={[{ x: p.xDomain[0], y: 0 }, { x: p.xDomain[1], y: 0.1 }]}
            stroke="#a3a3a3"
            strokeWidth={1.6}
          />
        )}
        {p.zero === "line" && <ReferenceLine y={p.zeroAt} stroke="#111" strokeWidth={1.5} />}
        {p.series.map((s, i) => (
          <Line
            key={MODELS[i]}
            name={MODELS[i]}
            data={toPoints(s)}
            dataKey="v"
            type="linear"
            stroke={LINE_COLORS[i]}
            strokeWidth={i === 3 && p.blueWide ? 2.5 : 1.8}
            dot={false}
            activeDot={false}
            isAnimationActive={false}
          />
        ))}
      </LineChart>
    </div>
  );
}

const LEGEND_POS = [
  [34, 87, 92, 61],
  [205, 258, 263, 162],
  [472, 524, 530, 107],
  [693, 746, 749, 93],
  [896, 949, 953, 123],
  [1123, 1177, 1182, 79],
];

function Overlay() {
  return (
    <svg
      width={1290}
      height={816}
      style={{ position: "absolute", left: 0, top: 0, pointerEvents: "none" }}
    >
      {PANELS.map((p, k) => {
        const [bx, by, bw, bh] = p.box;
        const [pl, pt, pr, pb] = p.plot;
        const [tx, ty, tw] = p.titlePos;
        return (
          <g key={k}>
            <rect x={bx} y={by} width={bw} height={bh} fill="none" stroke="#333" strokeWidth={1.5} />
            {k === 0 && (
              <>
                <line x1={pl} x2={pr} y1={pt} y2={pt} stroke="#a8a8a8" strokeWidth={1.6} />
                <line x1={pr} x2={pr} y1={pt} y2={pb} stroke="#a8a8a8" strokeWidth={1.6} />
              </>
            )}
            {k === 1 && (
              <>
                <line x1={pl} x2={pr} y1={pt} y2={pt} stroke="#222" strokeWidth={1.6} />
                <line x1={pr} x2={pr} y1={pt} y2={pb} stroke="#555" strokeWidth={1.5} />
              </>
            )}
            {k === 2 && (
              <>
                <line x1={pl} x2={pr + 2} y1={pt} y2={pt} stroke="#111" strokeWidth={3} />
                <rect x={pr - 1} y={pt} width={3.5} height={pb - pt} fill="#c4c4c4" stroke="#333" strokeWidth={0.9} />
              </>
            )}
            {k === 3 && (
              <>
                <line x1={pl} x2={pr} y1={pt} y2={pt} stroke="#111" strokeWidth={2} />
                <line x1={pr} x2={pr} y1={pt} y2={pb} stroke="#111" strokeWidth={2} />
              </>
            )}
            {k === 4 && (
              <>
                <line x1={pl} x2={pr} y1={pt} y2={pt} stroke="#111" strokeWidth={3} />
                <line x1={pr} x2={pr} y1={pt} y2={pb} stroke="#777" strokeWidth={1.5} />
              </>
            )}
            {k === 5 && (
              <>
                <line x1={pl} x2={pr} y1={pt} y2={pt} stroke="#222" strokeWidth={2} />
                <line x1={pr} x2={pr} y1={pt} y2={pb} stroke="#222" strokeWidth={2} />
              </>
            )}
            <Squeezed x={tx} y={ty + 6.5} width={tw} size={18} text={p.title} fill="#1a1a1a" />
            <text
              transform={`translate(${p.unitPos[0]},${p.unitPos[1]}) rotate(-90)`}
              textAnchor="middle"
              dy="0.35em"
              fontSize={13.5}
              fontFamily={FONT}
              fill="#222"
            >
              mm/dia
            </text>
          </g>
        );
      })}
      <rect x={8} y={761} width={1279} height={80} fill="none" stroke="#231f20" strokeWidth={4} />
      {MODELS.map((m, i) => {
        const [x1, x2, tx, tw] = LEGEND_POS[i];
        return (
          <g key={m}>
            <line x1={x1} x2={x2} y1={789} y2={789} stroke={LEGEND_COLORS[i]} strokeWidth={6} />
            <Squeezed x={tx} y={806} width={tw} size={44} text={m} fill="#231f20" />
          </g>
        );
      })}
    </svg>
  );
}

export default function App() {
  return (
    <div style={{ position: "absolute", left: 0, top: 0, width: 1290, height: 816, background: "#fff", overflow: "hidden" }}>
      {PANELS.map((p, k) => (
        <PanelChart key={k} p={p} />
      ))}
      <Overlay />
    </div>
  );
}
